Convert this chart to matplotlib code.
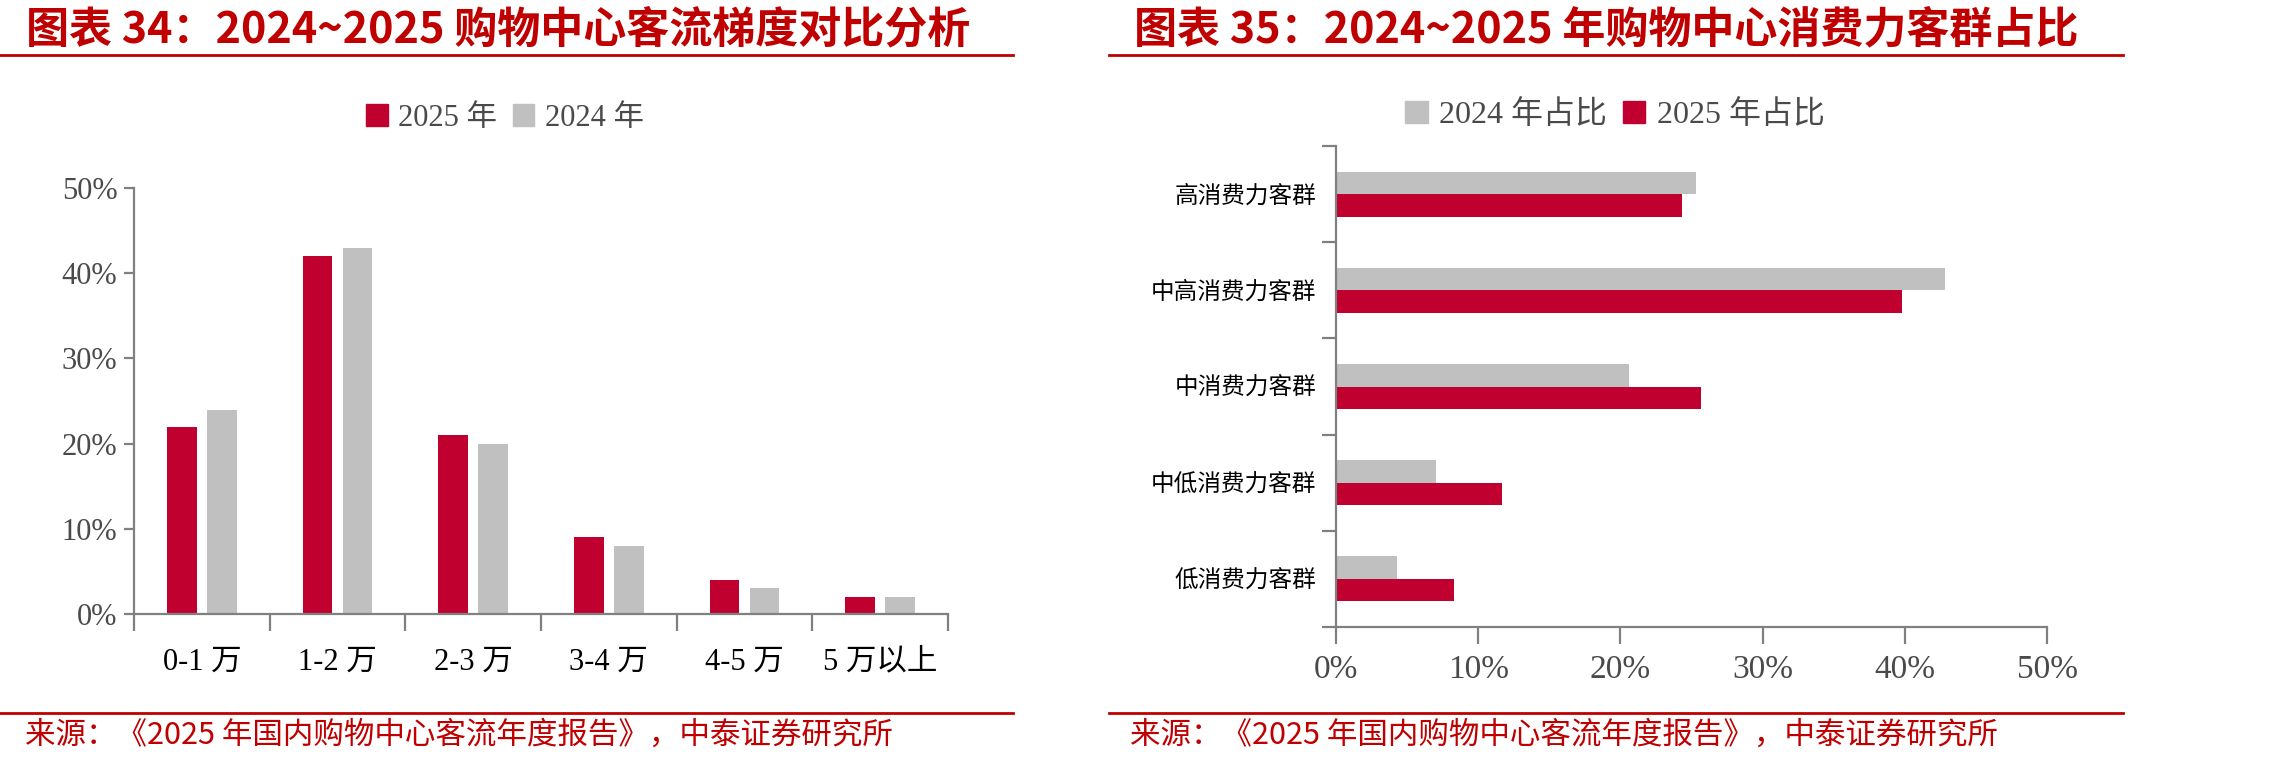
import numpy as np
import matplotlib
matplotlib.use('Agg')
import matplotlib.pyplot as plt
from matplotlib.patches import Patch
from matplotlib.ticker import PercentFormatter

plt.rcParams['font.family'] = ['Liberation Serif', 'Noto Sans CJK SC']

# 图表34 数据
flow_cats = ['0-1 万', '1-2 万', '2-3 万', '3-4 万', '4-5 万', '5 万以上']
flow_2025 = [22, 42, 21, 9, 4, 2]
flow_2024 = [24, 43, 20, 8, 3, 2]

# 图表35 数据
group_cats = ['高消费力客群', '中高消费力客群', '中消费力客群', '中低消费力客群', '低消费力客群']
group_2024 = [25.3, 42.8, 20.6, 7.0, 4.3]
group_2025 = [24.3, 39.8, 25.7, 11.7, 8.3]

RED = '#C0002E'
GRAY = '#C0C0C0'
AXIS = '#808080'
TXT = '#4A4A4A'
TITLE_RED = '#C00000'

W, H = 2280, 766
fig = plt.figure(figsize=(W / 100, H / 100), dpi=100)


def fx(px):
    return px / W


def fy(py):
    return 1 - py / H


def style_axes(ax):
    for s in ['top', 'right']:
        ax.spines[s].set_visible(False)
    for s in ['left', 'bottom']:
        ax.spines[s].set_color(AXIS)
        ax.spines[s].set_linewidth(1.6)
    ax.tick_params(colors=AXIS, width=1.6, labelcolor=TXT)


# 标题、分隔线、来源
titles = [(26, '图表 34：2024~2025 购物中心客流梯度对比分析'),
          (1134, '图表 35：2024~2025 年购物中心消费力客群占比')]
for x0, t in titles:
    fig.text(fx(x0), fy(29), t, color=TITLE_RED, fontsize=31, fontweight='bold',
             family=['Noto Sans CJK SC'], va='center', ha='left')

for xa, xb in [(0, 1013), (1109, 2123)]:
    for yy in [55, 713]:
        fig.add_artist(plt.Line2D([fx(xa), fx(xb)], [fy(yy), fy(yy)],
                                  color=TITLE_RED, lw=2, transform=fig.transFigure))

for x0 in [25, 1130]:
    fig.text(fx(x0), fy(735), '来源：《2025 年国内购物中心客流年度报告》，中泰证券研究所',
             color=TITLE_RED, fontsize=22, family=['Noto Sans CJK SC'],
             va='center', ha='left')

# 左图：柱状图
ax1 = fig.add_axes([fx(134), fy(614), fx(948 - 134), (614 - 188) / H])
x = np.arange(len(flow_cats))
ax1.bar(x - 0.147, flow_2025, width=0.22, color=RED)
ax1.bar(x + 0.147, flow_2024, width=0.22, color=GRAY)
ax1.set_xlim(-0.5, len(flow_cats) - 0.5)
ax1.set_ylim(0, 50)
ax1.set_yticks(range(0, 51, 10))
ax1.yaxis.set_major_formatter(PercentFormatter(decimals=0))
ax1.set_xticks(np.arange(len(flow_cats) + 1) - 0.5)
ax1.set_xticklabels([])
ax1.set_xticks(x, minor=True)
ax1.set_xticklabels(flow_cats, minor=True, fontsize=22)
style_axes(ax1)
ax1.tick_params(axis='x', which='major', length=12, direction='out')
ax1.tick_params(axis='x', which='minor', length=0, pad=24)
ax1.tick_params(axis='y', length=7, labelsize=22, pad=5)

fig.legend(handles=[Patch(color=RED, label='2025 年'), Patch(color=GRAY, label='2024 年')],
           loc='center', bbox_to_anchor=(fx(505), fy(118)), ncol=2, frameon=False,
           fontsize=22, handlelength=0.7, handleheight=0.7, handletextpad=0.35,
           columnspacing=0.5, labelcolor=TXT)

# 右图：条形图
ax2 = fig.add_axes([fx(1336), fy(627), fx(2047 - 1336), (627 - 146) / H])
y = np.arange(len(group_cats))
ax2.barh(y - 0.117, group_2024, height=0.234, color=GRAY)
ax2.barh(y + 0.117, group_2025, height=0.234, color=RED)
ax2.set_ylim(len(group_cats) - 0.5, -0.5)
ax2.set_xlim(0, 50)
ax2.set_xticks(range(0, 51, 10))
ax2.xaxis.set_major_formatter(PercentFormatter(decimals=0))
ax2.set_yticks(np.arange(len(group_cats) + 1) - 0.5)
ax2.set_yticklabels([])
ax2.set_yticks(y, minor=True)
ax2.set_yticklabels(group_cats, minor=True, fontsize=17)
style_axes(ax2)
ax2.tick_params(axis='y', which='major', length=10)
ax2.tick_params(axis='y', which='minor', length=0, pad=14)
ax2.tick_params(axis='x', length=12, labelsize=24, pad=8)

fig.legend(handles=[Patch(color=GRAY, label='2024 年占比'), Patch(color=RED, label='2025 年占比')],
           loc='center', bbox_to_anchor=(fx(1615), fy(115)), ncol=2, frameon=False,
           fontsize=23, handlelength=0.7, handleheight=0.7, handletextpad=0.35,
           columnspacing=0.5, labelcolor=TXT)

fig.savefig('out.png', dpi=100, facecolor='white')
